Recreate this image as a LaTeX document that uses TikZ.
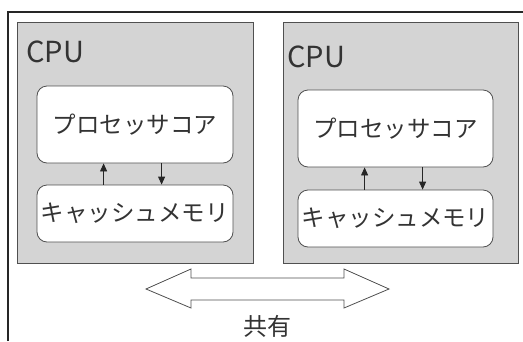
\documentclass[tikz,border=0pt]{standalone}
\usepackage{fontspec}
\setmainfont{Noto Sans CJK JP}
\usetikzlibrary{arrows.meta}
\definecolor{boxgray}{RGB}{212,212,212}
\definecolor{edgegray}{RGB}{80,80,80}
\tikzset{
  frame/.style={line width=2pt, draw=black!85},
  cpubox/.style={draw=edgegray, line width=0.8pt, fill=boxgray, anchor=north west, inner sep=0pt},
  unitbox/.style={draw=edgegray, line width=0.8pt, fill=white, rounded corners=10pt, inner sep=0pt, minimum height=57pt, font=\fontsize{23.5}{23.5}\selectfont, text=black!80},
  cpulabel/.style={anchor=base west, inner sep=0pt, font=\fontsize{29}{29}\selectfont, text=black!80},
  arr/.style={-{Triangle[length=8pt,width=7pt]}, line width=0.8pt, black!85},
  dblarrow/.style={draw=edgegray, line width=0.8pt, fill=white}
}
\begin{document}
\begin{tikzpicture}[x=1pt,y=-1pt]
\useasboundingbox (0,0) rectangle (523,341);
\draw[frame] (8,341) -- (8,12) -- (523,12);
% CPU boxes
\node[cpubox, minimum width=236pt, minimum height=241pt] (cpu1) at (17,22) {};
\node[cpubox, minimum width=235pt, minimum height=241pt] (cpu2) at (283,22) {};
\node[cpulabel] (lbl1) at (26,62) {CPU};
\node[cpulabel] (lbl2) at (287,67) {CPU};
% units
\node[unitbox, minimum width=196pt, minimum height=77pt] (core1) at (135,124.5) {プロセッサコア};
\node[unitbox, minimum width=196pt] (cache1) at (135,213.5) {キャッシュメモリ};
\node[unitbox, minimum width=195pt, minimum height=77pt] (core2) at (395.5,128.5) {プロセッサコア};
\node[unitbox, minimum width=195pt] (cache2) at (395.5,218.5) {キャッシュメモリ};
% arrows
\draw[arr] ([xshift=67pt]cache1.north west) -- ([xshift=67pt]core1.south west);
\draw[arr] ([xshift=125pt]core1.south west) -- ([xshift=125pt]cache1.north west);
\draw[arr] ([xshift=67pt]cache2.north west) -- ([xshift=67pt]core2.south west);
\draw[arr] ([xshift=125pt]core2.south west) -- ([xshift=125pt]cache2.north west);
% shared double arrow
\draw[dblarrow] (146,289) -- (191,269) -- (191,278) -- (344,278) -- (344,269) -- (389,289)
  -- (344,308) -- (344,300) -- (191,300) -- (191,308) -- cycle;
\node[font=\fontsize{24}{24}\selectfont, text=black!80] (shared) at (267,326) {共有};
\end{tikzpicture}
\end{document}
